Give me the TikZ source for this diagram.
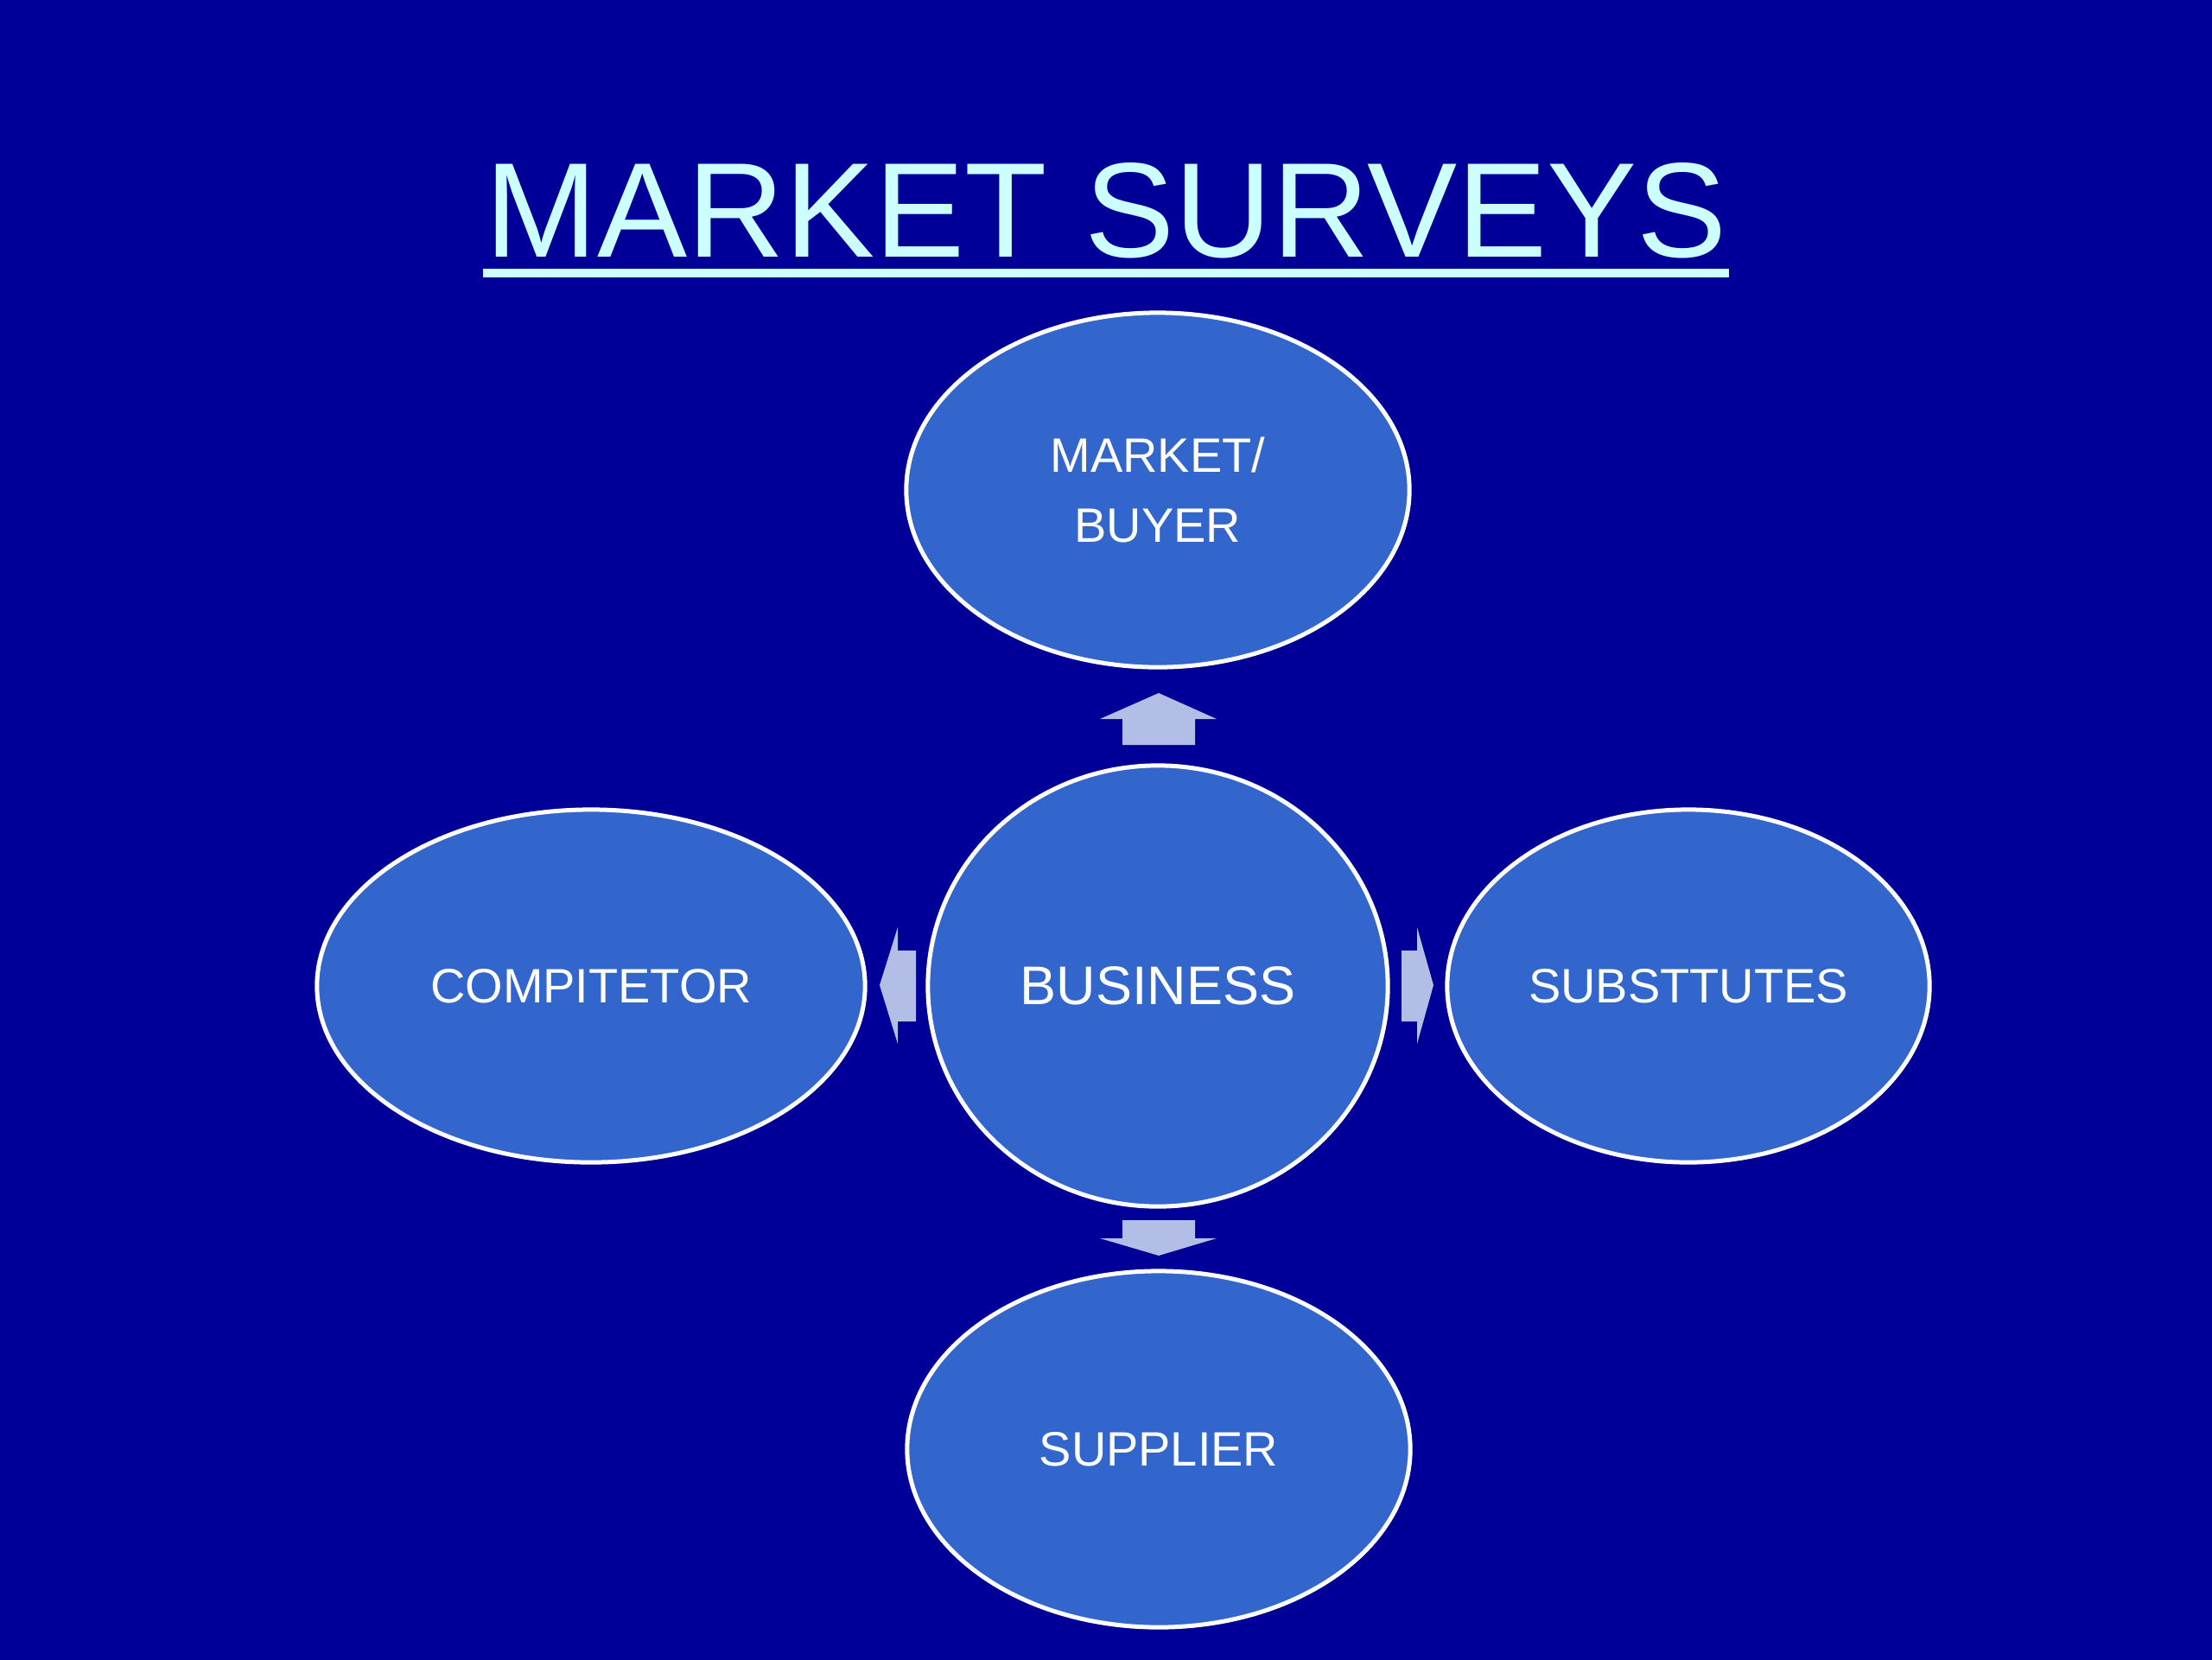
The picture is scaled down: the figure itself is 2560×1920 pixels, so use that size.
\documentclass[tikz,border=0pt]{standalone}
\usepackage{fontspec}
\setmainfont{Liberation Sans}
\usetikzlibrary{shapes.geometric}
\definecolor{bgnavy}{RGB}{0,0,153}
\definecolor{ellfill}{RGB}{51,102,204}
\definecolor{titlecol}{RGB}{204,255,255}
\definecolor{arrowcol}{RGB}{178,190,230}
\begin{document}
\begin{tikzpicture}[x=0.01cm,y=-0.01cm,
  oval/.style={ellipse, draw=white, line width=0.05cm, fill=ellfill, inner sep=0pt,
    text=white, font=\fontsize{15.9pt}{23pt}\selectfont, align=center},
  blockarrow/.style={fill=arrowcol}]
\useasboundingbox (0,0) rectangle (2560,1920);
\fill[bgnavy] (-20,-20) rectangle (2580,1940);
% title
\node[anchor=base, text=titlecol, font=\fontsize{44.4pt}{50pt}\selectfont, inner sep=0pt] (title) at (1280,297) {MARKET SURVEYS};
\fill[titlecol] (559,311) rectangle (2001,321);
% ellipses
\node[oval, minimum width=5.82cm, minimum height=4.10cm] (market) at (1340,567) {MARKET/\\BUYER};
\node[oval, minimum width=5.32cm, minimum height=5.10cm, font=\fontsize{17.9pt}{22pt}\selectfont] (business) at (1340,1141) {BUSINESS};
\node[oval, minimum width=6.34cm, minimum height=4.08cm] (comp) at (684,1141) {COMPITETOR};
\node[oval, minimum width=5.58cm, minimum height=4.08cm] (subst) at (1954,1141) {SUBSTTUTES};
\node[oval, minimum width=5.82cm, minimum height=4.12cm] (supplier) at (1341,1677) {SUPPLIER};
% block arrows
\fill[blockarrow] (1341,802) -- (1408,832) -- (1383,832) -- (1383,862) -- (1299,862) -- (1299,832) -- (1273,832) -- cycle;
\fill[blockarrow] (1341,1453) -- (1408,1433) -- (1383,1433) -- (1383,1412) -- (1299,1412) -- (1299,1433) -- (1273,1433) -- cycle;
\fill[blockarrow] (1018,1140) -- (1039,1073) -- (1039,1100) -- (1060,1100) -- (1060,1182) -- (1039,1182) -- (1039,1208) -- cycle;
\fill[blockarrow] (1659,1140) -- (1640,1073) -- (1640,1100) -- (1622,1100) -- (1622,1182) -- (1640,1182) -- (1640,1208) -- cycle;
\end{tikzpicture}
\end{document}
